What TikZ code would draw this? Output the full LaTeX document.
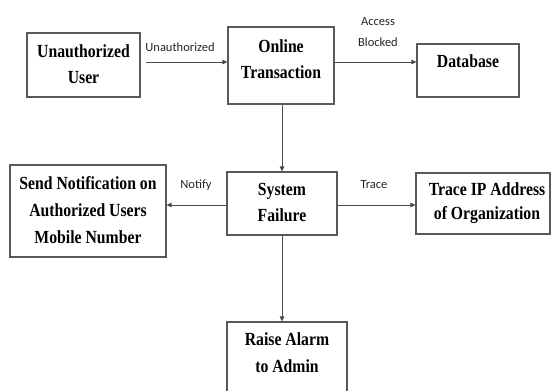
\documentclass[tikz,border=0pt]{standalone}
\usepackage{fontspec}
\setmainfont{Liberation Serif}
\newfontfamily\boxfont[FakeStretch=0.85]{Liberation Serif Bold}
\newfontfamily\labfont{Carlito}
\usetikzlibrary{arrows.meta}

\tikzset{
  box/.style={draw=black!65, line width=1.1pt, rectangle, inner sep=0pt},
  boxtext/.style={anchor=base, inner sep=0pt, font=\boxfont\fontsize{18.5}{22}\selectfont},
  lab/.style={anchor=base, inner sep=0pt, font=\labfont\fontsize{12.5}{15}\selectfont, text=black!85},
  flow/.style={draw=black!70, line width=0.9pt, -{Triangle[length=5pt,width=4.5pt]}}
}

\begin{document}
\begin{tikzpicture}[x=1pt,y=-1pt]
  \clip (0,0) rectangle (552,391);
  \fill[white] (0,0) rectangle (552,391);

  % boxes
  \node[box, minimum width=113pt, minimum height=64pt] (uu) at (83.5,65) {};
  \node[box, minimum width=106pt, minimum height=77pt] (ot) at (281,65.5) {};
  \node[box, minimum width=102pt, minimum height=53pt] (db) at (468,70.5) {};
  \node[box, minimum width=156pt, minimum height=92pt] (sn) at (88,211) {};
  \node[box, minimum width=110pt, minimum height=63pt] (sf) at (282,203.5) {};
  \node[box, minimum width=134pt, minimum height=61pt] (tr) at (483,203.5) {};
  \node[box, minimum width=120pt, minimum height=80pt] (ra) at (287,362) {};

  % box texts
  \node[boxtext] (uu1) at (83.5,57) {Unauthorized};
  \node[boxtext] (uu2) at (83.5,83) {User};
  \node[boxtext] (ot1) at (281,52) {Online};
  \node[boxtext] (ot2) at (281,78) {Transaction};
  \node[boxtext] (db1) at (468,67) {Database};
  \node[boxtext] (sn1) at (88,189) {Send Notification on};
  \node[boxtext] (sn2) at (88,216) {Authorized Users};
  \node[boxtext] (sn3) at (88,243) {Mobile Number};
  \node[boxtext] (sf1) at (282,195) {System};
  \node[boxtext] (sf2) at (282,221) {Failure};
  \node[boxtext] (tr1) at (487,195) {Trace IP Address};
  \node[boxtext] (tr2) at (487,219) {of Organization};
  \node[boxtext] (ra1) at (287,345) {Raise Alarm};
  \node[boxtext] (ra2) at (287,372) {to Admin};

  % connector labels
  \node[lab] (l1) at (180,51) {Unauthorized};
  \node[lab] (l2) at (378,25) {Access};
  \node[lab] (l3) at (378,46) {Blocked};
  \node[lab] (l4) at (196,188) {Notify};
  \node[lab] (l5) at (374,188) {Trace};

  % connectors
  \draw[flow, shorten <=5pt] ([yshift=3pt]uu.east) -- ([yshift=3.5pt]ot.west);
  \draw[flow] ([yshift=3.5pt]ot.east) -- ([yshift=8.5pt]db.west);
  \draw[flow] ([xshift=1pt]ot.south) -- (sf.north);
  \draw[flow] ([yshift=-1.5pt]sf.west) -- ([yshift=6pt]sn.east);
  \draw[flow] ([yshift=-1.5pt]sf.east) -- ([yshift=-1.5pt]tr.west);
  \draw[flow] (sf.south) -- ([xshift=-5pt]ra.north);
\end{tikzpicture}
\end{document}
